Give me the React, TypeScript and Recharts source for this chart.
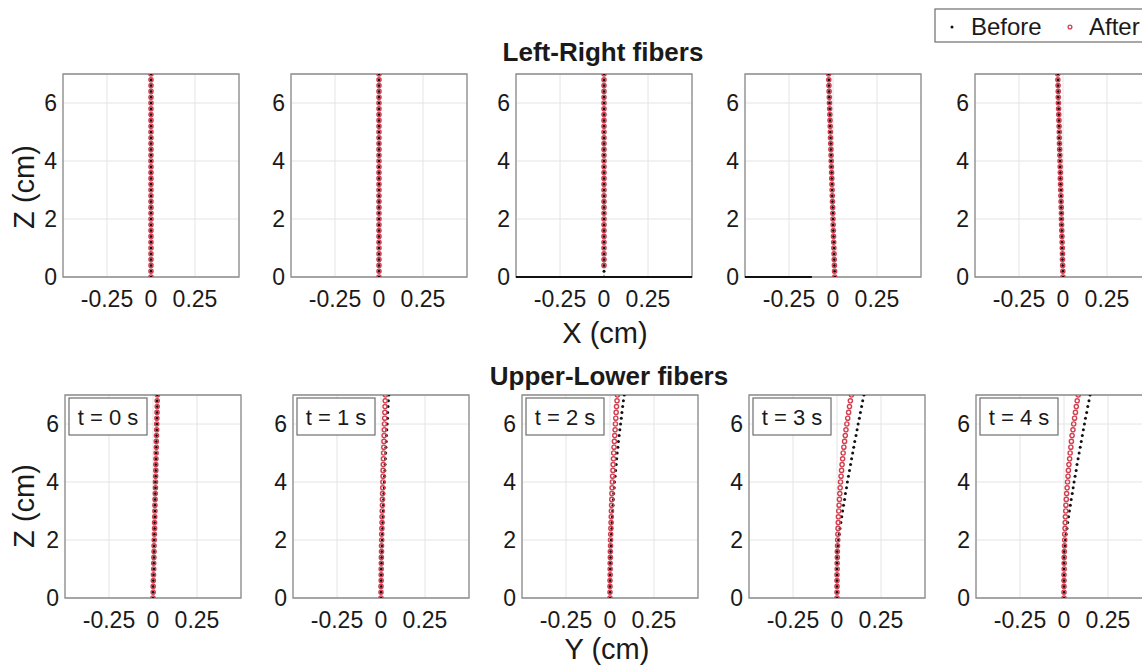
import React from "react";
import {
  ScatterChart,
  Scatter,
  XAxis,
  YAxis,
  CartesianGrid,
  ReferenceArea,
  ReferenceLine,
} from "recharts";

// heights along the fiber (cm), shared by every panel
const HEIGHTS = [
  0, 0.2, 0.4, 0.6, 0.8, 1, 1.2, 1.4, 1.6, 1.8, 2, 2.2, 2.4, 2.6, 2.8, 3, 3.2, 3.4,
  3.6, 3.8, 4, 4.2, 4.4, 4.6, 4.8, 5, 5.2, 5.4, 5.6, 5.8, 6, 6.2, 6.4, 6.6, 6.8, 7,
];

// Left-Right fibers, X offsets (cm)
const LR_STRAIGHT = [
  0, 0, 0, 0, 0, 0, 0, 0, 0, 0, 0, 0, 0, 0, 0, 0, 0, 0,
  0, 0, 0, 0, 0, 0, 0, 0, 0, 0, 0, 0, 0, 0, 0, 0, 0, 0,
];
const LR_T2_AFTER = [
  null, null, 0, 0, 0, 0, 0, 0, 0, 0, 0, 0, 0, 0, 0, 0, 0, 0,
  0, 0, 0, 0, 0, 0, 0, 0, 0, 0, 0, 0, 0, 0, 0, 0, 0, 0,
];
const LR_T3 = [
  0.01, 0.009, 0.008, 0.007, 0.006, 0.005, 0.004, 0.003, 0.002, 0.001, 0, -0.001,
  -0.002, -0.003, -0.004, -0.005, -0.006, -0.007, -0.008, -0.009, -0.01, -0.011,
  -0.012, -0.013, -0.014, -0.015, -0.016, -0.017, -0.018, -0.019, -0.02, -0.021,
  -0.022, -0.023, -0.024, -0.025,
];
const LR_T4 = [
  0, -0.001, -0.002, -0.003, -0.003, -0.004, -0.005, -0.006, -0.007, -0.008, -0.009,
  -0.009, -0.01, -0.011, -0.012, -0.013, -0.014, -0.015, -0.015, -0.016, -0.017,
  -0.018, -0.019, -0.02, -0.021, -0.021, -0.022, -0.023, -0.024, -0.025, -0.026,
  -0.027, -0.027, -0.028, -0.029, -0.03,
];

// Upper-Lower fibers, Y offsets (cm)
const UL_T0 = [
  0, 0.001, 0.001, 0.002, 0.003, 0.004, 0.004, 0.005, 0.006, 0.006, 0.007, 0.008,
  0.009, 0.009, 0.01, 0.011, 0.011, 0.012, 0.013, 0.014, 0.014, 0.015, 0.016, 0.016,
  0.017, 0.018, 0.019, 0.019, 0.02, 0.021, 0.021, 0.022, 0.023, 0.024, 0.024, 0.025,
];
const UL_T1_BEFORE = [
  0, 0, 0.001, 0.001, 0.002, 0.002, 0.003, 0.004, 0.005, 0.006, 0.007, 0.008, 0.009,
  0.01, 0.011, 0.012, 0.014, 0.015, 0.016, 0.018, 0.019, 0.02, 0.022, 0.023, 0.025,
  0.027, 0.028, 0.03, 0.031, 0.033, 0.035, 0.037, 0.038, 0.04, 0.042, 0.044,
];
const UL_T1_AFTER = [
  0, 0, 0, 0.001, 0.001, 0.001, 0.002, 0.002, 0.003, 0.003, 0.004, 0.004, 0.005,
  0.006, 0.006, 0.007, 0.008, 0.008, 0.009, 0.01, 0.011, 0.012, 0.012, 0.013, 0.014,
  0.015, 0.016, 0.017, 0.018, 0.019, 0.02, 0.021, 0.022, 0.023, 0.024, 0.025,
];
const UL_T2_BEFORE = [
  0, 0, 0, 0.001, 0.001, 0.002, 0.002, 0.003, 0.004, 0.005, 0.007, 0.008, 0.01,
  0.011, 0.013, 0.015, 0.017, 0.019, 0.021, 0.024, 0.026, 0.029, 0.032, 0.035, 0.038,
  0.041, 0.045, 0.048, 0.052, 0.056, 0.06, 0.064, 0.068, 0.072, 0.076, 0.081,
];
const UL_T2_AFTER = [
  0, 0, 0, 0, 0.001, 0.001, 0.001, 0.002, 0.002, 0.003, 0.003, 0.004, 0.005, 0.006,
  0.007, 0.008, 0.009, 0.01, 0.011, 0.012, 0.014, 0.015, 0.017, 0.018, 0.02, 0.021,
  0.023, 0.025, 0.027, 0.029, 0.031, 0.033, 0.035, 0.037, 0.04, 0.042,
];
const UL_T3_BEFORE = [
  0, 0, 0, 0, 0, 0, 0, 0, 0.001, 0.005, 0.009, 0.013, 0.017, 0.022, 0.027, 0.032,
  0.037, 0.043, 0.048, 0.054, 0.059, 0.065, 0.071, 0.077, 0.083, 0.089, 0.095, 0.101,
  0.108, 0.114, 0.12, 0.127, 0.133, 0.14, 0.146, 0.153,
];
const UL_T3_AFTER = [
  0, 0, 0, 0, 0, 0.001, 0.001, 0.002, 0.002, 0.003, 0.004, 0.005, 0.006, 0.007,
  0.008, 0.01, 0.012, 0.014, 0.016, 0.018, 0.02, 0.023, 0.026, 0.029, 0.032, 0.035,
  0.039, 0.043, 0.047, 0.051, 0.056, 0.061, 0.066, 0.071, 0.076, 0.082,
];
const UL_T4_BEFORE = [
  0, 0, 0, 0, 0, 0, 0, 0, 0.001, 0.005, 0.008, 0.012, 0.017, 0.021, 0.026, 0.031,
  0.036, 0.041, 0.047, 0.052, 0.057, 0.063, 0.069, 0.074, 0.08, 0.086, 0.092, 0.098,
  0.104, 0.11, 0.116, 0.122, 0.129, 0.135, 0.142, 0.148,
];
const UL_T4_AFTER = [
  0, 0, 0, 0, 0, 0.001, 0.001, 0.001, 0.002, 0.003, 0.004, 0.004, 0.006, 0.007,
  0.008, 0.01, 0.011, 0.013, 0.015, 0.018, 0.02, 0.023, 0.025, 0.028, 0.032, 0.035,
  0.039, 0.042, 0.046, 0.051, 0.055, 0.06, 0.065, 0.07, 0.075, 0.081,
];

const LR_BEFORE = [LR_STRAIGHT, LR_STRAIGHT, LR_STRAIGHT, LR_T3, LR_T4];
const LR_AFTER = [LR_STRAIGHT, LR_STRAIGHT, LR_T2_AFTER, LR_T3, LR_T4];
const UL_BEFORE = [UL_T0, UL_T1_BEFORE, UL_T2_BEFORE, UL_T3_BEFORE, UL_T4_BEFORE];
const UL_AFTER = [UL_T0, UL_T1_AFTER, UL_T2_AFTER, UL_T3_AFTER, UL_T4_AFTER];

// stray "before" samples lying along z = 0 in the left-right row
const LR_FLOOR = [null, null, [-0.5, 0.5], [-0.5, -0.12], null];

const TIME_LABELS = ["t = 0 s", "t = 1 s", "t = 2 s", "t = 3 s", "t = 4 s"];
const OFFSET_TICKS = [-0.25, 0, 0.25];
const HEIGHT_TICKS = [0, 2, 4, 6];
const OFFSET_DOMAIN = [-0.5, 0.5];
const HEIGHT_DOMAIN = [0, 7];

// layout (px)
const TOP_LEFTS = [63, 291, 516, 745, 975];
const BOTTOM_LEFTS = [65, 293, 522, 749, 976];
const TOP_Y = 74;
const BOTTOM_Y = 395;
const BOX_W = 176;
const BOX_H = 203;
const AXIS_W = 45;
const AXIS_H = 45;
const PAD = 10;

const FONT = '"Liberation Sans", Arial, Helvetica, sans-serif';
const INK = "#1a1a1a";
const RED = "#d23f50";

const toPoints = (xs: (number | null)[]) =>
  HEIGHTS.map((z, i) => ({ x: xs[i], z })).filter((p) => p.x !== null);

const BeforeDot = (props: any) => (
  <circle cx={props.cx} cy={props.cy} r={1.5} fill="#111" />
);
const AfterDot = (props: any) => (
  <circle cx={props.cx} cy={props.cy} r={2.1} fill="none" stroke={RED} strokeWidth={1.4} />
);

interface PanelProps {
  left: number;
  top: number;
  before: (number | null)[];
  after: (number | null)[];
  floor?: number[] | null;
}

function Panel({ left, top, before, after, floor }: PanelProps) {
  const tick = { fontSize: 23, fill: INK };
  return (
    <div style={{ position: "absolute", left: left - AXIS_W, top: top - PAD }}>
      <ScatterChart
        width={AXIS_W + BOX_W + PAD}
        height={PAD + BOX_H + AXIS_H}
        margin={{ top: PAD, right: PAD, bottom: 0, left: 0 }}
      >
        <CartesianGrid stroke="#e4e4e4" />
        <XAxis
          type="number"
          dataKey="x"
          domain={OFFSET_DOMAIN}
          ticks={OFFSET_TICKS}
          allowDataOverflow
          interval={0}
          height={AXIS_H}
          axisLine={false}
          tickLine={false}
          tickSize={4}
          tickMargin={10}
          tick={tick}
        />
        <YAxis
          type="number"
          dataKey="z"
          domain={HEIGHT_DOMAIN}
          ticks={HEIGHT_TICKS}
          allowDataOverflow
          interval={0}
          width={AXIS_W}
          axisLine={false}
          tickLine={false}
          tickSize={4}
          tickMargin={2}
          tick={tick}
        />
        <ReferenceArea
          x1={-0.5}
          x2={0.5}
          y1={0}
          y2={7}
          fill="none"
          stroke="#8c8c8c"
          strokeWidth={1.3}
          ifOverflow="visible"
        />
        {floor && (
          <ReferenceLine
            segment={[
              { x: floor[0], y: 0 },
              { x: floor[1], y: 0 },
            ]}
            stroke="#111"
            strokeWidth={2}
            ifOverflow="visible"
          />
        )}
        <Scatter data={toPoints(before)} shape={BeforeDot} isAnimationActive={false} />
        <Scatter data={toPoints(after)} shape={AfterDot} isAnimationActive={false} />
      </ScatterChart>
    </div>
  );
}

export default function App() {
  return (
    <div
      style={{
        position: "absolute",
        left: 0,
        top: 0,
        width: 1142,
        height: 667,
        overflow: "hidden",
        background: "#fff",
        fontFamily: FONT,
        color: INK,
      }}
    >
      {TOP_LEFTS.map((left, i) => (
        <Panel
          key={`lr-${i}`}
          left={left}
          top={TOP_Y}
          before={LR_BEFORE[i]}
          after={LR_AFTER[i]}
          floor={LR_FLOOR[i]}
        />
      ))}
      {BOTTOM_LEFTS.map((left, i) => (
        <Panel
          key={`ul-${i}`}
          left={left}
          top={BOTTOM_Y}
          before={UL_BEFORE[i]}
          after={UL_AFTER[i]}
        />
      ))}

      <svg
        width={1142}
        height={667}
        style={{ position: "absolute", left: 0, top: 0, pointerEvents: "none" }}
        fontFamily={FONT}
        fill={INK}
      >
        <text x={603} y={61} fontSize={26} fontWeight="bold" textAnchor="middle">
          Left-Right fibers
        </text>
        <text x={609} y={385} fontSize={26} fontWeight="bold" textAnchor="middle">
          Upper-Lower fibers
        </text>
        <text x={605} y={343} fontSize={29} textAnchor="middle">
          X (cm)
        </text>
        <text x={607} y={659} fontSize={29} textAnchor="middle">
          Y (cm)
        </text>
        <text x={34} y={187} fontSize={29} textAnchor="middle" transform="rotate(-90 34 187)">
          Z (cm)
        </text>
        <text x={34} y={506} fontSize={29} textAnchor="middle" transform="rotate(-90 34 506)">
          Z (cm)
        </text>

        {BOTTOM_LEFTS.map((left, i) => (
          <g key={`tl-${i}`}>
            <rect
              x={left + 4}
              y={BOTTOM_Y + 3}
              width={78}
              height={37}
              fill="#fff"
              stroke="#6e6e6e"
              strokeWidth={1.2}
            />
            <text x={left + 43} y={BOTTOM_Y + 30} fontSize={22} textAnchor="middle">
              {TIME_LABELS[i]}
            </text>
          </g>
        ))}

        <rect x={935} y={9} width={230} height={33} fill="#fff" stroke="#6e6e6e" strokeWidth={1.2} />
        <circle cx={952} cy={27} r={1.5} fill="#111" />
        <text x={971} y={35} fontSize={24}>
          Before
        </text>
        <circle cx={1070} cy={27} r={1.9} fill="none" stroke={RED} strokeWidth={1.3} />
        <text x={1089} y={35} fontSize={24}>
          After
        </text>
      </svg>
    </div>
  );
}
